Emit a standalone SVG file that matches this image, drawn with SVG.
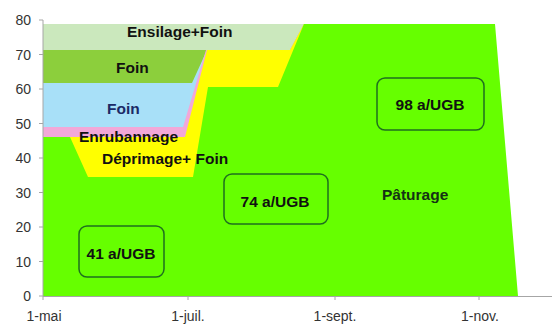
<svg xmlns="http://www.w3.org/2000/svg" width="552" height="325" viewBox="0 0 552 325">
  <style>
    .lbl { font-family: "Liberation Sans", Arial, sans-serif; font-weight: bold; font-size: 15.5px; fill: #111; }
    .ax { font-family: "Liberation Sans", Arial, sans-serif; font-size: 14px; fill: #333; }
    .axis { stroke: #a6a6a6; stroke-width: 1; fill: none; }
    .box { fill: none; stroke: #1f6f1f; stroke-width: 1.5; }
  </style>
  <rect width="552" height="325" fill="#ffffff"/>

  <g id="areas">
    <polygon id="ensilage-foin" fill="#cbe8bd" points="43,24 304,24 304,296 43,296"/>
    <polygon id="foin-vert" fill="#8ccf3c" points="43,50 290,50 304,24 304,296 43,296"/>
    <polygon id="foin-bleu" fill="#a8e0f8" points="43,83 192,83 207,50 290,50 304,24 304,296 43,296"/>
    <polygon id="enrubannage" fill="#f2a8d8" points="43,127 183,127 206,50 290,50 304,24 304,296 43,296"/>
    <polygon id="deprimage" fill="#ffff00" points="43,137 185,137 207,50 290,50 304,24 304,296 43,296"/>
    <polygon id="paturage" fill="#66ff00" points="43,137 70,137 88,177 193,177 208,87 278,87 304,24 495,24 518,296 43,296"/>
  </g>

  <g id="axes">
    <line class="axis" x1="43" y1="20" x2="43" y2="296"/>
    <line class="axis" x1="43" y1="296.5" x2="552" y2="296.5"/>
    <g class="axis">
      <line x1="39" y1="20" x2="43" y2="20"/>
      <line x1="39" y1="54.5" x2="43" y2="54.5"/>
      <line x1="39" y1="89" x2="43" y2="89"/>
      <line x1="39" y1="123.5" x2="43" y2="123.5"/>
      <line x1="39" y1="158" x2="43" y2="158"/>
      <line x1="39" y1="192.5" x2="43" y2="192.5"/>
      <line x1="39" y1="227" x2="43" y2="227"/>
      <line x1="39" y1="261.5" x2="43" y2="261.5"/>
      <line x1="39" y1="296" x2="43" y2="296"/>
      <line x1="43" y1="296" x2="43" y2="300"/>
      <line x1="188" y1="296" x2="188" y2="300"/>
      <line x1="335" y1="296" x2="335" y2="300"/>
      <line x1="479" y1="296" x2="479" y2="300"/>
    </g>
    <g class="ax" text-anchor="end">
      <text x="31" y="25">80</text>
      <text x="31" y="59.5">70</text>
      <text x="31" y="94">60</text>
      <text x="31" y="128.5">50</text>
      <text x="31" y="163">40</text>
      <text x="31" y="197.5">30</text>
      <text x="31" y="232">20</text>
      <text x="31" y="266.5">10</text>
      <text x="31" y="301">0</text>
    </g>
    <g class="ax" text-anchor="middle">
      <text x="44" y="321">1-mai</text>
      <text x="188" y="321">1-juil.</text>
      <text x="335" y="321">1-sept.</text>
      <text x="480" y="321">1-nov.</text>
    </g>
  </g>

  <g id="series-labels">
    <text class="lbl" x="127" y="37">Ensilage+Foin</text>
    <text class="lbl" x="116" y="73">Foin</text>
    <text class="lbl" x="107" y="114" style="fill:#1b2a66">Foin</text>
    <text class="lbl" x="79" y="142">Enrubannage</text>
    <text class="lbl" x="102" y="164">Déprimage+ Foin</text>
    <text class="lbl" x="382" y="200" style="fill:#143214">Pâturage</text>
  </g>

  <g id="box-41">
    <rect class="box" x="79" y="226" width="85" height="51" rx="8"/>
    <text class="lbl" x="121" y="259" text-anchor="middle">41 a/UGB</text>
  </g>
  <g id="box-74">
    <rect class="box" x="224" y="174" width="104" height="50" rx="8"/>
    <text class="lbl" x="275" y="207" text-anchor="middle">74 a/UGB</text>
  </g>
  <g id="box-98">
    <rect class="box" x="377" y="78" width="107" height="52" rx="8"/>
    <text class="lbl" x="430" y="110" text-anchor="middle">98 a/UGB</text>
  </g>
</svg>
